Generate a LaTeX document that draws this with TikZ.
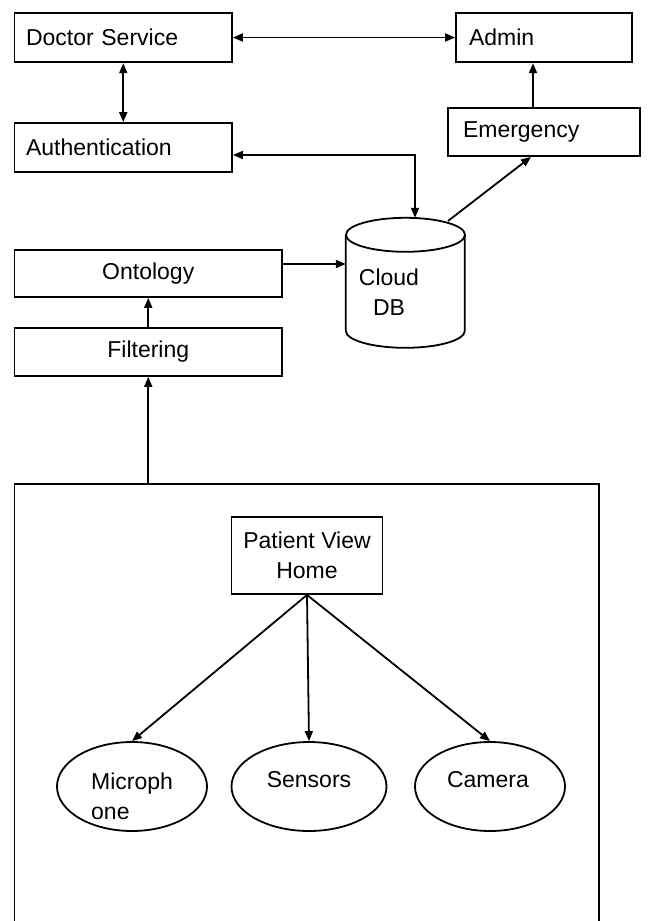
\documentclass[tikz,border=0pt]{standalone}
\usepackage{fontspec}
\setmainfont{Liberation Sans}
\usetikzlibrary{arrows.meta,calc,shapes.geometric}
\begin{document}
\begin{tikzpicture}[x=1pt,y=-1pt,
  every node/.style={font=\fontsize{23}{30}\selectfont},
  box/.style={draw,line width=1.8pt,inner ysep=0pt},
  ell/.style={draw,ellipse,line width=1.8pt,inner sep=0pt},
  uni/.style={line width=1.8pt,-{Triangle[length=10pt,width=8pt]}},
  bi/.style={line width=1.8pt,{Triangle[length=10pt,width=8pt]}-{Triangle[length=10pt,width=8pt]}}]
\useasboundingbox (0,0) rectangle (651,921);
\clip (0,0) rectangle (651,921);
\fill[white] (0,0) rectangle (651,921);

\node[box,minimum width=217.5pt,minimum height=49.6pt,text width=194.5pt,inner xsep=11.5pt,align=left] (doc) at (123.25,37.5) {Doctor Service};
\node[box,minimum width=176pt,minimum height=49.6pt,text width=150pt,inner xsep=13pt,align=left] (admin) at (544,37.5) {Admin};
\node[box,minimum width=192pt,minimum height=48pt,text width=162pt,inner xsep=15pt,align=left] (emg) at (544,132) {Emergency};
\node[box,minimum width=217.5pt,minimum height=49pt,text width=194.5pt,inner xsep=11.5pt,align=left] (auth) at (123.25,147.5) {Authentication};
\node[box,minimum width=267.5pt,minimum height=47pt,align=center] (onto) at (148.25,273.5) {Ontology};
\node[box,minimum width=267.5pt,minimum height=48pt,align=center] (filt) at (148.25,352) {Filtering};
\node[draw,line width=1.8pt,minimum width=584.5pt,minimum height=480pt,inner sep=0pt] (home) at (306.75,724) {};
\node[box,minimum width=151pt,minimum height=77pt,align=center] (pvh) at (307,555.5) {Patient View\\Home};

\node[ell,minimum width=150pt,minimum height=89pt] (mic) at (132,786.5) {};
\node[ell,minimum width=155pt,minimum height=89pt] (sen) at (309,786.5) {};
\node[ell,minimum width=150pt,minimum height=89pt] (cam) at (490,786.5) {};
\node[anchor=west,align=left,inner sep=0pt] (mictext) at (91,796) {Microph\\one};
\node[inner sep=0pt] (sentext) at (309,780) {Sensors};
\node[inner sep=0pt] (camtext) at (488,780) {Camera};

% Cloud DB cylinder
\node[inner sep=0pt,minimum width=119pt,minimum height=130pt] (db) at (405.5,283) {};
\draw[line width=1.8pt] (db.north west) ++(0,17) -- ++(0,96)
  arc[start angle=180,end angle=360,x radius=59.5pt,y radius=17pt] -- ++(0,-96);
\draw[line width=1.8pt] (db.north) ++(0,17) ellipse[x radius=59.5pt,y radius=17pt];
\node[align=center,inner sep=0pt] (dbtext) at (389,292) {Cloud\\DB};

% connectors
\draw[bi] (doc) -- (admin);
\draw[bi] (doc) -- (auth);
\draw[uni] ([xshift=-11pt]emg.north) -- ([xshift=-11pt]emg.north |- admin.south);
\coordinate (dbr) at (448,221);
\draw[uni] (dbr) -- ([xshift=-13pt]emg.south);
\draw[bi] ([yshift=-7.5pt]auth.east) -| ([xshift=9.5pt]db.north);
\draw[uni] ([yshift=9.5pt]onto.east) -- ([yshift=9.5pt]onto.east -| db.west);
\draw[uni] (filt) -- (onto);
\draw[uni] (home.north -| filt.south) -- (filt.south);
\draw[uni] (pvh.south) -- (mic.north);
\draw[uni] (pvh.south) -- (sen.north);
\draw[uni] (pvh.south) -- (cam.north);
\end{tikzpicture}
\end{document}
